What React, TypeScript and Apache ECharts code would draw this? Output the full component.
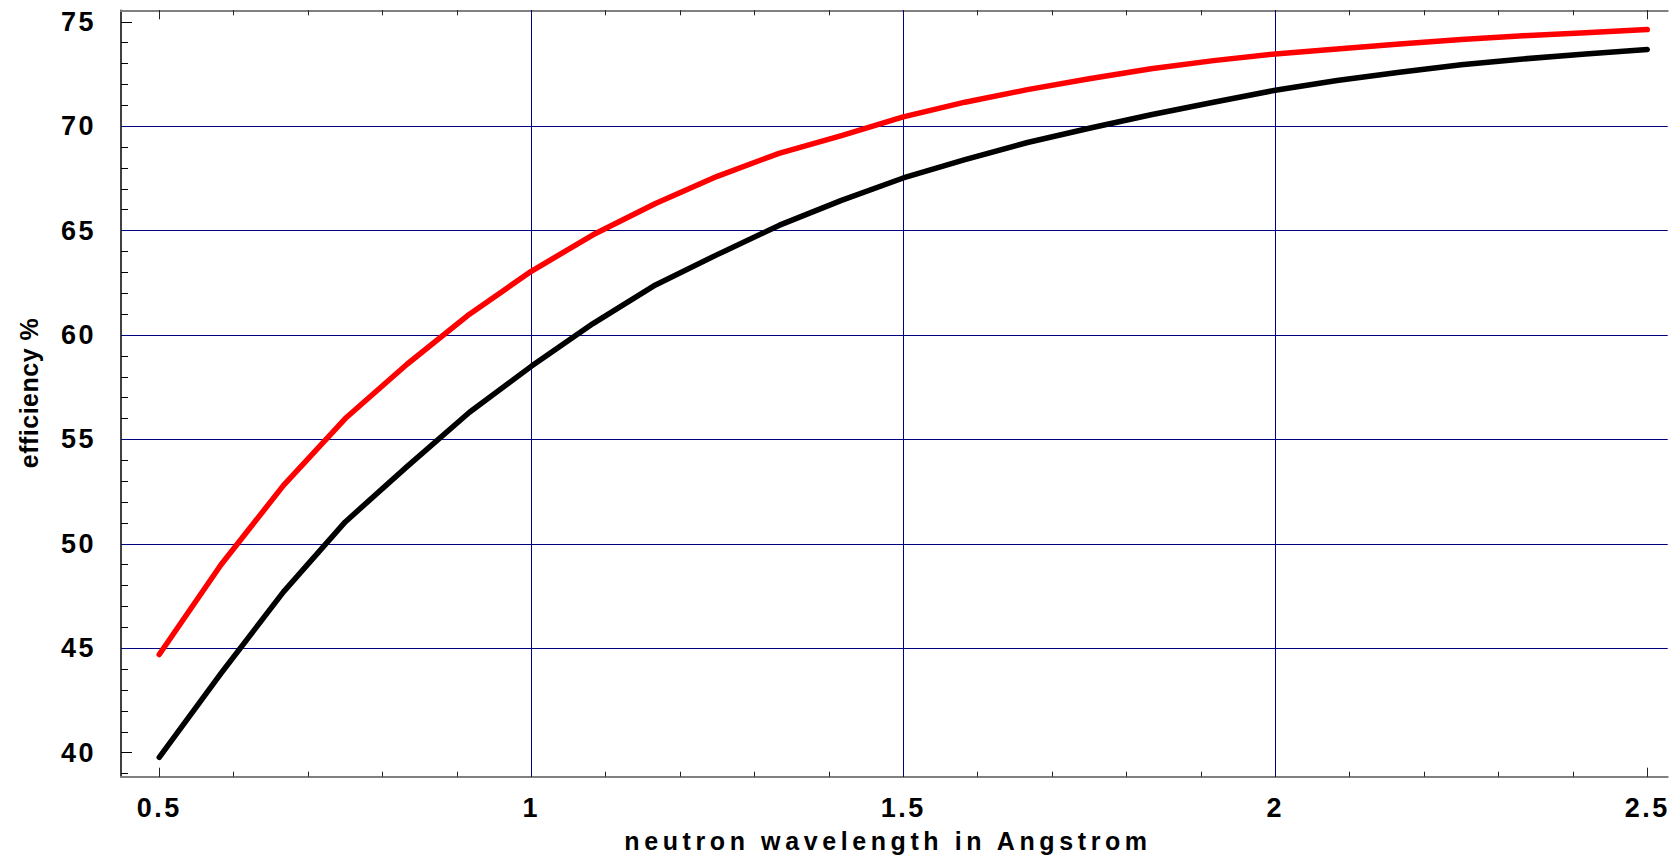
import React, { useEffect, useRef } from "react";
import * as echarts from "echarts";

const xValues = [0.5, 0.583, 0.667, 0.75, 0.833, 0.917, 1.0, 1.083, 1.167, 1.25, 1.333, 1.417, 1.5, 1.583, 1.667, 1.75, 1.833, 1.917, 2.0, 2.083, 2.167, 2.25, 2.333, 2.417, 2.5];
const redEfficiency = [44.7, 49.0, 52.8, 56.0, 58.6, 61.0, 63.05, 64.8, 66.3, 67.6, 68.7, 69.55, 70.45, 71.15, 71.75, 72.27, 72.75, 73.14, 73.46, 73.7, 73.94, 74.15, 74.33, 74.48, 74.63];
const blackEfficiency = [39.78, 43.8, 47.7, 51.05, 53.7, 56.3, 58.5, 60.55, 62.4, 63.85, 65.25, 66.45, 67.52, 68.4, 69.22, 69.9, 70.55, 71.15, 71.72, 72.19, 72.58, 72.94, 73.22, 73.46, 73.67];

const xMajorTicks = [0.5, 1, 1.5, 2, 2.5];
const xMinorTicks = [0.5, 0.6, 0.7, 0.8, 0.9, 1, 1.1, 1.2, 1.3, 1.4, 1.5, 1.6, 1.7, 1.8, 1.9, 2, 2.1, 2.2, 2.3, 2.4, 2.5];
const yMajorTicks = [40, 45, 50, 55, 60, 65, 70, 75];
const yMinorTicks = [39, 40, 41, 42, 43, 44, 45, 46, 47, 48, 49, 50, 51, 52, 53, 54, 55, 56, 57, 58, 59, 60, 61, 62, 63, 64, 65, 66, 67, 68, 69, 70, 71, 72, 73, 74, 75];
const xGridValues = [1, 1.5, 2];
const yGridValues = [45, 50, 55, 60, 65, 70];

const xTitle = "neutron wavelength in Angstrom";
const yTitle = "efficiency %";

const X_MIN = 0.4486;
const X_MAX = 2.5275;
const Y_MIN = 38.85;
const Y_MAX = 75.55;

const FONT = "'Liberation Sans', Arial, sans-serif";

export default function App() {
  const ref = useRef<HTMLDivElement>(null);

  useEffect(() => {
    if (!ref.current) return;
    const chart = echarts.init(ref.current, undefined, { renderer: "svg" });

    const labelStyle = {
      fontFamily: FONT,
      fontWeight: "bold" as const,
      fontSize: 27,
      color: "#000",
    };

    const baseX = {
      type: "value" as const,
      min: X_MIN,
      max: X_MAX,
      splitLine: { show: false },
    };
    const baseY = {
      type: "value" as const,
      min: Y_MIN,
      max: Y_MAX,
      splitLine: { show: false },
    };

    const option: any = {
      animation: false,
      backgroundColor: "#ffffff",
      grid: { left: 121, right: 0, top: 10.3, bottom: 81.3, containLabel: false },
      xAxis: [
        {
          ...baseX,
          position: "bottom",
          offset: 0,
          axisLine: { show: true, onZero: false, lineStyle: { color: "#808080", width: 2 } },
          axisTick: { show: true, inside: true, length: 5, customValues: xMinorTicks, lineStyle: { color: "#222", width: 1 } },
          axisLabel: { show: true, customValues: xMajorTicks, margin: 18, ...labelStyle },
        },
        {
          ...baseX,
          position: "bottom",
          offset: 0,
          axisLine: { show: false, onZero: false },
          axisTick: { show: true, inside: true, length: 9, customValues: xMajorTicks, lineStyle: { color: "#222", width: 1 } },
          axisLabel: { show: false },
        },
        {
          ...baseX,
          position: "top",
          offset: 0,
          axisLine: { show: true, onZero: false, lineStyle: { color: "#808080", width: 2 } },
          axisTick: { show: true, inside: true, length: 5, customValues: xMinorTicks, lineStyle: { color: "#222", width: 1 } },
          axisLabel: { show: false },
        },
        {
          ...baseX,
          position: "top",
          offset: 0,
          axisLine: { show: false, onZero: false },
          axisTick: { show: true, inside: true, length: 9, customValues: xMajorTicks, lineStyle: { color: "#222", width: 1 } },
          axisLabel: { show: false },
        },
      ],
      yAxis: [
        {
          ...baseY,
          position: "left",
          offset: 0,
          axisLine: { show: true, onZero: false, lineStyle: { color: "#000", width: 1.5 } },
          axisTick: { show: true, inside: true, length: 7, customValues: yMinorTicks, lineStyle: { color: "#000", width: 1 } },
          axisLabel: { show: true, customValues: yMajorTicks, margin: 25, ...labelStyle },
        },
        {
          ...baseY,
          position: "left",
          offset: 0,
          axisLine: { show: false, onZero: false },
          axisTick: { show: true, inside: true, length: 11, customValues: yMajorTicks, lineStyle: { color: "#000", width: 1 } },
          axisLabel: { show: false },
        },
      ],
      graphic: [
        {
          type: "text",
          x: 888,
          y: 841,
          z: 10,
          style: {
            text: xTitle,
            font: `bold 25px ${FONT}`,
            fill: "#000",
            textAlign: "center",
            textVerticalAlign: "middle",
          },
        },
        {
          type: "text",
          x: 29,
          y: 393,
          rotation: Math.PI / 2,
          z: 10,
          style: {
            text: yTitle,
            font: `bold 25px ${FONT}`,
            fill: "#000",
            textAlign: "center",
            textVerticalAlign: "middle",
          },
        },
      ],
      series: [
        {
          name: "grid",
          type: "line",
          data: [],
          xAxisIndex: 0,
          yAxisIndex: 0,
          silent: true,
          z: 1,
          markLine: {
            silent: true,
            z: 1,
            symbol: ["none", "none"],
            label: { show: false },
            lineStyle: { color: "#000080", width: 1, type: "solid" },
            emphasis: { disabled: true },
            data: [
              ...xGridValues.map((v) => ({ xAxis: v })),
              ...yGridValues.map((v) => ({ yAxis: v })),
            ],
          },
        },
        {
          name: "red",
          type: "line",
          xAxisIndex: 0,
          yAxisIndex: 0,
          z: 3,
          showSymbol: false,
          symbol: "none",
          lineStyle: { color: "#ff0000", width: 5.5, cap: "round", join: "round" },
          data: xValues.map((x, i) => [x, redEfficiency[i]]),
        },
        {
          name: "black",
          type: "line",
          xAxisIndex: 0,
          yAxisIndex: 0,
          z: 3,
          showSymbol: false,
          symbol: "none",
          lineStyle: { color: "#000000", width: 5.5, cap: "round", join: "round" },
          data: xValues.map((x, i) => [x, blackEfficiency[i]]),
        },
      ],
    };

    chart.setOption(option);

    const applySpacing = () => {
      if (!ref.current) return;
      ref.current.querySelectorAll("text").forEach((t) => {
        const s = t.textContent || "";
        if (s === xTitle) t.setAttribute("letter-spacing", "4.6");
        else if (s === yTitle) t.setAttribute("letter-spacing", "0.5");
        else t.setAttribute("letter-spacing", "2.5");
      });
    };
    applySpacing();
    chart.on("finished", applySpacing);

    return () => {
      chart.dispose();
    };
  }, []);

  return (
    <div
      ref={ref}
      style={{ position: "fixed", left: 0, top: 0, width: 1669, height: 858, background: "#fff" }}
    />
  );
}
